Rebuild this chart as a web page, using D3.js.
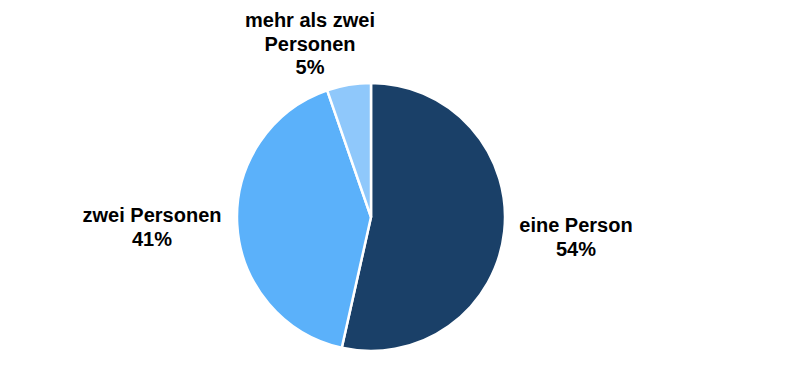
<!DOCTYPE html>
<html>
<head>
<meta charset="utf-8">
<script src="https://cdn.jsdelivr.net/npm/d3@7"></script>
<style>
  body { margin: 0; background: #fff; }
</style>
</head>
<body>
<svg id="chart" width="800" height="390"></svg>
<script>
// Daten
const categories = ['eine Person', 'zwei Personen', 'mehr als zwei Personen'];
const values = [53.5, 41.2, 5.3];
const colors = ['#1a4068', '#5bb1fa', '#8fc8fb'];
// Beschriftungen (Zeilen)
const labelLines = [
  ['eine Person'],
  ['zwei Personen'],
  ['mehr als zwei', 'Personen']
];
const labelPos = [[576, 232], [152, 222], [310, 27]];

const svg = d3.select('#chart');
const cx = 371, cy = 217, radius = 134;

const pie = d3.pie().sort(null).value(d => d);
const arc = d3.arc().innerRadius(0).outerRadius(radius);

const g = svg.append('g').attr('transform', `translate(${cx},${cy})`);

g.selectAll('path')
  .data(pie(values))
  .join('path')
  .attr('d', arc)
  .attr('fill', (d, i) => colors[i])
  .attr('stroke', '#fff')
  .attr('stroke-width', 2.5)
  .attr('stroke-linejoin', 'round');

/****************** Labels ******************/
labelLines.forEach((lines, i) => {
  const all = lines.concat([Math.round(values[i]) + '%']);
  const t = svg.append('text')
    .attr('x', labelPos[i][0])
    .attr('y', labelPos[i][1])
    .attr('text-anchor', 'middle')
    .attr('font-family', 'Liberation Sans, Arial, sans-serif')
    .attr('font-weight', 'bold')
    .attr('font-size', '20px')
    .attr('fill', '#000');
  all.forEach((line, j) => {
    t.append('tspan')
      .attr('x', labelPos[i][0])
      .attr('dy', j === 0 ? 0 : 23.5)
      .text(line);
  });
});
</script>
</body>
</html>
